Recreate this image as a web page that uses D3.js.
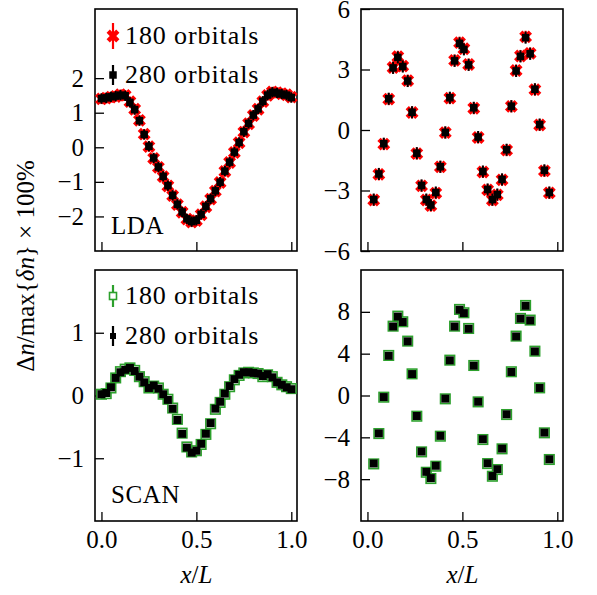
<!DOCTYPE html>
<html>
<head>
<meta charset="utf-8">
<script src="https://cdn.jsdelivr.net/npm/d3@7/dist/d3.min.js"></script>
<style>
  body { margin: 0; background: #fff; }
  svg { display: block; font-family: "Liberation Serif", "DejaVu Serif", serif; }
</style>
</head>
<body>
<svg id="chart" width="597" height="595"></svg>
<script>
// ---- data ----
const gridX = [0, 0.025, 0.05, 0.075, 0.1, 0.125, 0.15, 0.175, 0.2, 0.225, 0.25, 0.275, 0.3, 0.325,
  0.35, 0.375, 0.4, 0.425, 0.45, 0.475, 0.5, 0.525, 0.55, 0.575, 0.6, 0.625, 0.65, 0.675, 0.7,
  0.725, 0.75, 0.775, 0.8, 0.825, 0.85, 0.875, 0.9, 0.925, 0.95, 0.975, 1.0];

const lda180 = [1.40, 1.42, 1.45, 1.47, 1.52, 1.50, 1.32, 1.10, 0.78, 0.38, 0.02, -0.32, -0.58, -0.85,
  -1.12, -1.40, -1.66, -1.88, -2.08, -2.16, -2.12, -1.95, -1.72, -1.50, -1.27, -1.02, -0.70, -0.44,
  -0.15, 0.13, 0.44, 0.68, 0.92, 1.10, 1.32, 1.50, 1.60, 1.58, 1.55, 1.52, 1.45];
const lda280 = [1.41, 1.43, 1.46, 1.48, 1.51, 1.49, 1.30, 1.09, 0.77, 0.37, 0.03, -0.31, -0.57, -0.84,
  -1.11, -1.39, -1.65, -1.87, -2.07, -2.15, -2.11, -1.94, -1.71, -1.49, -1.26, -1.01, -0.69, -0.43,
  -0.14, 0.14, 0.45, 0.69, 0.93, 1.11, 1.33, 1.51, 1.59, 1.57, 1.54, 1.51, 1.44];

const scan180 = [0.02, 0.03, 0.12, 0.28, 0.38, 0.42, 0.44, 0.40, 0.30, 0.22, 0.12, 0.15, 0.12, 0.02,
  -0.06, -0.20, -0.38, -0.60, -0.82, -0.90, -0.88, -0.78, -0.62, -0.45, -0.22, -0.11, 0.02, 0.14,
  0.25, 0.32, 0.36, 0.37, 0.36, 0.35, 0.30, 0.33, 0.30, 0.21, 0.17, 0.14, 0.11];
const scan280 = [0.02, 0.04, 0.13, 0.28, 0.37, 0.41, 0.44, 0.39, 0.30, 0.21, 0.12, 0.16, 0.11, 0.02,
  -0.07, -0.21, -0.39, -0.61, -0.83, -0.91, -0.88, -0.77, -0.61, -0.44, -0.21, -0.10, 0.03, 0.15,
  0.26, 0.33, 0.37, 0.37, 0.36, 0.35, 0.31, 0.34, 0.29, 0.21, 0.17, 0.13, 0.10];

const sampleX = [0.033, 0.06, 0.086, 0.112, 0.135, 0.16, 0.186, 0.212, 0.235, 0.26, 0.285, 0.31,
  0.334, 0.36, 0.384, 0.41, 0.434, 0.459, 0.485, 0.508, 0.533, 0.56, 0.583, 0.608, 0.633, 0.658,
  0.684, 0.709, 0.733, 0.758, 0.783, 0.806, 0.833, 0.857, 0.882, 0.907, 0.932, 0.958];

const ldaRes180 = [-3.47, -2.20, -0.70, 1.53, 3.10, 3.63, 3.17, 2.45, 0.87, -1.17, -2.77, -3.47,
  -3.75, -3.13, -1.83, -0.13, 1.58, 3.45, 4.33, 4.03, 3.25, 1.08, -0.37, -2.08, -2.97, -3.47,
  -3.22, -2.47, -1.00, 1.17, 2.95, 3.67, 4.62, 3.80, 2.00, 0.25, -2.03, -3.12];
const ldaRes280 = [-3.45, -2.18, -0.68, 1.55, 3.08, 3.60, 3.15, 2.43, 0.88, -1.15, -2.75, -3.45,
  -3.72, -3.10, -1.82, -0.12, 1.60, 3.43, 4.30, 4.00, 3.23, 1.10, -0.35, -2.06, -2.95, -3.45,
  -3.20, -2.45, -0.98, 1.18, 2.93, 3.65, 4.58, 3.78, 2.02, 0.27, -2.00, -3.10];

const scanRes180 = [-6.54, -3.64, -0.16, 3.83, 6.63, 7.59, 7.05, 5.20, 2.07, -1.98, -5.39, -7.34,
  -7.94, -6.76, -3.89, -0.32, 3.38, 6.63, 8.23, 7.91, 6.41, 2.87, -0.61, -4.21, -6.51, -7.72,
  -7.08, -5.10, -1.82, 2.27, 5.68, 7.37, 8.61, 7.21, 4.24, 0.73, -3.57, -6.12];
const scanRes280 = [-6.50, -3.62, -0.15, 3.80, 6.60, 7.55, 7.03, 5.18, 2.05, -1.96, -5.36, -7.30,
  -7.90, -6.72, -3.86, -0.30, 3.36, 6.60, 8.20, 7.88, 6.38, 2.85, -0.60, -4.18, -6.48, -7.70,
  -7.05, -5.08, -1.80, 2.25, 5.65, 7.35, 8.58, 7.18, 4.22, 0.72, -3.55, -6.10];

const ldaErr = 0.15;
const ldaResErr = 0.3;
const scanErr = 0.03;
const scanResErr = 0.3;

const xTicks = [0, 0.5, 1.0];
const ldaTicks = [-2, -1, 0, 1, 2];
const ldaResTicks = [-6, -3, 0, 3, 6];
const scanTicks = [-1, 0, 1];
const scanResTicks = [-8, -4, 0, 4, 8];

const seriesNames = ['180 orbitals', '280 orbitals'];
const red = '#ff0000';
const green = '#2ca02c';
const fontSize = 25;

const svg = d3.select('#chart');
const xDomain = [-0.034, 1.03];
const fmtY = (d) => (d < 0 ? '\u2212' + Math.abs(d) : String(d));

function makePanel(left, top, width, height, yDomain, yTicks, showXLabels) {
  const g = svg.append('g').attr('transform', `translate(${left},${top})`);
  const x = d3.scaleLinear().domain(xDomain).range([0, width]);
  const y = d3.scaleLinear().domain(yDomain).range([height, 0]);

  const ax = g.append('g').attr('transform', `translate(0,${height})`)
    .call(d3.axisBottom(x).tickValues(xTicks).tickSize(-9).tickPadding(9)
      .tickFormat(showXLabels ? d3.format('.1f') : ''));
  const ay = g.append('g')
    .call(d3.axisLeft(y).tickValues(yTicks).tickSize(-9).tickPadding(11).tickFormat(fmtY));

  [ax, ay].forEach((a) => {
    a.attr('font-size', null).attr('font-family', null);
    a.select('.domain').remove();
    a.selectAll('line').attr('stroke', '#000').attr('stroke-width', 1.3);
    a.selectAll('text').attr('font-size', fontSize).attr('fill', '#000');
  });

  g.append('rect').attr('width', width).attr('height', height)
    .attr('fill', 'none').attr('stroke', '#000').attr('stroke-width', 1.6);

  const plot = g.append('g');
  return { g, plot, x, y };
}

const xMarkPath = (() => {
  const h = 6.8, w = 2.3;
  const pts = [[-w, -h], [w, -h], [w, -w], [h, -w], [h, w], [w, w], [w, h], [-w, h], [-w, w], [-h, w], [-h, -w], [-w, -w]];
  const c = Math.SQRT1_2;
  return 'M' + pts.map(([px, py]) => [(px - py) * c, (px + py) * c].map((v) => v.toFixed(2)).join(',')).join('L') + 'Z';
})();

function drawSeries(p, xs, ys, err, style) {
  const pts = xs.map((xv, i) => ({ x: xv, y: ys[i] }));
  const grp = p.plot.append('g');
  grp.selectAll('line').data(pts).join('line')
    .attr('x1', (d) => p.x(d.x)).attr('x2', (d) => p.x(d.x))
    .attr('y1', (d) => p.y(d.y - err)).attr('y2', (d) => p.y(d.y + err))
    .attr('stroke', style.bar).attr('stroke-width', 2);
  drawMarkers(grp, pts.map((d) => [p.x(d.x), p.y(d.y)]), style);
}

function drawMarkers(grp, coords, style) {
  coords.forEach(([cx, cy]) => {
    if (style.shape === 'x') {
      grp.append('path').attr('d', xMarkPath).attr('transform', `translate(${cx},${cy})`)
        .attr('fill', style.fill);
    } else {
      const s = style.size;
      grp.append('rect').attr('x', cx - s / 2).attr('y', cy - s / 2).attr('width', s).attr('height', s)
        .attr('fill', style.fill).attr('stroke', style.stroke || 'none').attr('stroke-width', style.sw || 0);
    }
  });
}

const styles = {
  ldaA: { shape: 'x', fill: red, bar: red },
  ldaB: { shape: 's', size: 7.5, fill: '#000', bar: '#000' },
  scanA: { shape: 's', size: 9.5, fill: '#fff', stroke: green, sw: 1.6, bar: green },
  scanB: { shape: 's', size: 8, fill: '#000', bar: '#000' }
};

const tl = makePanel(95, 9, 202, 242, [-3, 4], ldaTicks, false);
const tr = makePanel(361, 9, 202, 242, [-6, 6], ldaResTicks, false);
const bl = makePanel(95, 270, 202, 251, [-2, 2], scanTicks, true);
const br = makePanel(361, 270, 202, 251, [-12, 12], scanResTicks, true);

drawSeries(tl, gridX, lda180, ldaErr, styles.ldaA);
drawSeries(tl, gridX, lda280, ldaErr, styles.ldaB);
drawSeries(tr, sampleX, ldaRes180, ldaResErr, styles.ldaA);
drawSeries(tr, sampleX, ldaRes280, ldaResErr, styles.ldaB);
drawSeries(bl, gridX, scan180, scanErr, styles.scanA);
drawSeries(bl, gridX, scan280, scanErr, styles.scanB);
drawSeries(br, sampleX, scanRes180, scanResErr, styles.scanA);
drawSeries(br, sampleX, scanRes280, scanResErr, styles.scanB);

// legends
function legend(p, rows) {
  rows.forEach((r, i) => {
    const cy = r.cy;
    const lg = p.g.append('g');
    lg.append('line').attr('x1', 18).attr('x2', 18).attr('y1', cy - r.half).attr('y2', cy + r.half)
      .attr('stroke', r.style.bar).attr('stroke-width', 2.2);
    drawMarkers(lg, [[18, cy]], r.style);
    lg.append('text').attr('x', 30).attr('y', cy + 8).attr('font-size', fontSize + 1)
      .attr('letter-spacing', 0.9).text(seriesNames[i]);
  });
}
legend(tl, [{ cy: 27, half: 13, style: styles.ldaA }, { cy: 66, half: 10, style: styles.ldaB }]);
legend(bl, [{ cy: 26, half: 11, style: { ...styles.scanA, size: 7 } }, { cy: 66, half: 10, style: { ...styles.scanB, size: 6 } }]);

tl.g.append('text').attr('x', 16).attr('y', 225).attr('font-size', fontSize).attr('letter-spacing', 0.6).text('LDA');
bl.g.append('text').attr('x', 16).attr('y', 233).attr('font-size', fontSize).attr('letter-spacing', 0.6).text('SCAN');

// axis titles
[bl, br].forEach((p) => {
  const t = p.g.append('text').attr('x', p.x(0.5)).attr('y', 313).attr('text-anchor', 'middle')
    .attr('font-size', fontSize);
  t.append('tspan').attr('font-style', 'italic').text('x');
  t.append('tspan').text('/');
  t.append('tspan').attr('font-style', 'italic').text('L');
});

const yl = svg.append('text').attr('transform', 'translate(34,266) rotate(-90)')
  .attr('text-anchor', 'middle').attr('font-size', fontSize);
yl.append('tspan').text('\u0394');
yl.append('tspan').attr('font-style', 'italic').text('n');
yl.append('tspan').text('/max{');
yl.append('tspan').attr('font-style', 'italic').text('\u03b4n');
yl.append('tspan').text('} \u00d7 100%');
</script>
</body>
</html>
